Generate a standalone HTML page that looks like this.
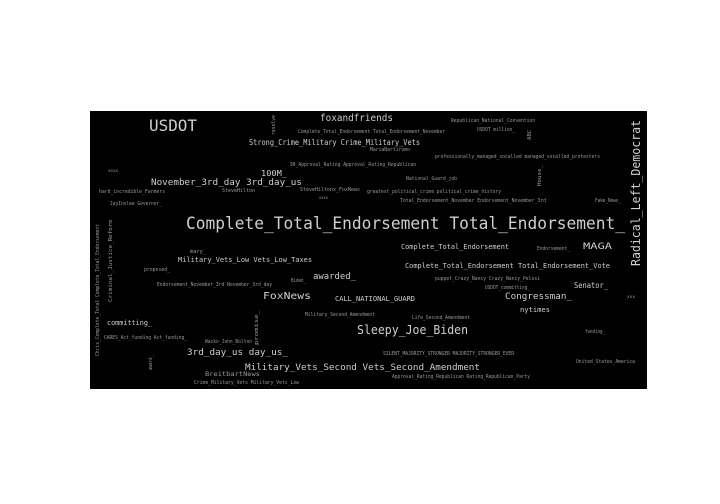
<!DOCTYPE html>
<html><head><meta charset="utf-8"><style>
html,body{margin:0;padding:0;background:#fff;width:720px;height:504px;overflow:hidden}
svg{display:block}
text{font-family:"DejaVu Sans Mono","Liberation Mono",monospace;fill:#cfcfcf}
.s{fill:#9a9a9a}
</style></head><body>
<svg width="720" height="504" viewBox="0 0 720 504" xmlns="http://www.w3.org/2000/svg">
<rect x="90" y="111" width="557" height="278" fill="#000"/>
<g>
<text x="149" y="131" font-size="16" textLength="48" lengthAdjust="spacingAndGlyphs" fill="#aaa">USDOT</text>
<text x="320" y="121" font-size="10" textLength="73" lengthAdjust="spacingAndGlyphs">foxandfriends</text>
<text class="s" x="298" y="133" font-size="5" textLength="147" lengthAdjust="spacingAndGlyphs">Complete_Total_Endorsement Total_Endorsement_November</text>
<text x="249" y="145" font-size="8" textLength="171" lengthAdjust="spacingAndGlyphs">Strong_Crime_Military Crime_Military_Vets</text>
<text class="s" x="451" y="122" font-size="5" textLength="84" lengthAdjust="spacingAndGlyphs">Republican_National_Convention</text>
<text class="s" x="477" y="131" font-size="5" textLength="38" lengthAdjust="spacingAndGlyphs">USDOT million_</text>
<text class="s" transform="translate(275,135) rotate(-90)" font-size="5" textLength="20" lengthAdjust="spacingAndGlyphs">resolve</text>
<text class="s" transform="translate(531,140) rotate(-90)" font-size="5" textLength="10" lengthAdjust="spacingAndGlyphs">ABC</text>
<text class="s" x="370" y="151" font-size="5" textLength="40" lengthAdjust="spacingAndGlyphs">MariaBartiromo</text>
<text class="s" x="435" y="158" font-size="5" textLength="165" lengthAdjust="spacingAndGlyphs">professionally_managed_socalled managed_socalled_protesters</text>
<text class="s" x="290" y="166" font-size="5" textLength="126" lengthAdjust="spacingAndGlyphs">90_Approval_Rating Approval_Rating_Republican</text>
<text x="261" y="176" font-size="8" textLength="26" lengthAdjust="spacingAndGlyphs">100M_</text>
<text class="s" x="108" y="172" font-size="4" textLength="10" lengthAdjust="spacingAndGlyphs">xxxx</text>
<text class="s" x="406" y="180" font-size="5" textLength="51" lengthAdjust="spacingAndGlyphs">National_Guard_job</text>
<text x="151" y="185" font-size="9" textLength="151" lengthAdjust="spacingAndGlyphs">November_3rd_day 3rd_day_us</text>
<text class="s" x="99" y="193" font-size="5" textLength="66" lengthAdjust="spacingAndGlyphs">hard_incredible_Farmers</text>
<text class="s" x="222" y="192" font-size="5" textLength="33" lengthAdjust="spacingAndGlyphs">SteveHilton</text>
<text class="s" x="300" y="191" font-size="5" textLength="60" lengthAdjust="spacingAndGlyphs">SteveHiltonx_FoxNews</text>
<text class="s" x="367" y="193" font-size="5" textLength="134" lengthAdjust="spacingAndGlyphs">greatest_political_crime political_crime_history</text>
<text class="s" transform="translate(541,186) rotate(-90)" font-size="5" textLength="21" lengthAdjust="spacingAndGlyphs">House_</text>
<text class="s" x="319" y="199" font-size="4" textLength="9" lengthAdjust="spacingAndGlyphs">xxxx</text>
<text class="s" x="400" y="202" font-size="5" textLength="146" lengthAdjust="spacingAndGlyphs">Total_Endorsement_November Endorsement_November_3rd</text>
<text class="s" x="595" y="202" font-size="5" textLength="26" lengthAdjust="spacingAndGlyphs">Fake_News_</text>
<text class="s" x="110" y="205" font-size="5" textLength="52" lengthAdjust="spacingAndGlyphs">JayInslee Governor_</text>
<text x="186" y="229" font-size="17" textLength="439" lengthAdjust="spacingAndGlyphs" fill="#e6e6e6">Complete_Total_Endorsement Total_Endorsement_</text>
<text transform="translate(640,266) rotate(-90)" font-size="12" textLength="146" lengthAdjust="spacingAndGlyphs">Radical_Left_Democrat</text>
<text class="s" transform="translate(99,356) rotate(-90)" font-size="5" textLength="132" lengthAdjust="spacingAndGlyphs">Chris_Complete_Total Complete_Total_Endorsement</text>
<text class="s" transform="translate(112,302) rotate(-90)" font-size="5" textLength="82" lengthAdjust="spacingAndGlyphs">Criminal_Justice_Reform</text>
<text x="401" y="249" font-size="7" textLength="108" lengthAdjust="spacingAndGlyphs">Complete_Total_Endorsement</text>
<text class="s" x="537" y="250" font-size="5" textLength="33" lengthAdjust="spacingAndGlyphs">Endorsement_</text>
<text x="583" y="249" font-size="9" textLength="29" lengthAdjust="spacingAndGlyphs" fill="#999">MAGA</text>
<text class="s" x="190" y="253" font-size="5" textLength="16" lengthAdjust="spacingAndGlyphs">mary_</text>
<text x="178" y="262" font-size="7" textLength="134" lengthAdjust="spacingAndGlyphs">Military_Vets_Low Vets_Low_Taxes</text>
<text x="405" y="268" font-size="7" textLength="205" lengthAdjust="spacingAndGlyphs">Complete_Total_Endorsement Total_Endorsement_Vote</text>
<text class="s" x="144" y="271" font-size="5" textLength="26" lengthAdjust="spacingAndGlyphs">proposed_</text>
<text class="s" x="157" y="286" font-size="5" textLength="115" lengthAdjust="spacingAndGlyphs">Endorsement_November_3rd November_3rd_day</text>
<text class="s" x="291" y="282" font-size="5" textLength="15" lengthAdjust="spacingAndGlyphs">Biden_</text>
<text x="313" y="279" font-size="9" textLength="43" lengthAdjust="spacingAndGlyphs">awarded_</text>
<text class="s" x="435" y="280" font-size="5" textLength="105" lengthAdjust="spacingAndGlyphs">puppet_Crazy_Nancy Crazy_Nancy_Pelosi</text>
<text class="s" x="485" y="289" font-size="5" textLength="45" lengthAdjust="spacingAndGlyphs">USDOT_committing_</text>
<text x="574" y="288" font-size="8" textLength="34" lengthAdjust="spacingAndGlyphs" fill="#999">Senator_</text>
<text x="263" y="299" font-size="10" textLength="48" lengthAdjust="spacingAndGlyphs" fill="#e6e6e6">FoxNews</text>
<text x="335" y="301" font-size="7" textLength="80" lengthAdjust="spacingAndGlyphs">CALL_NATIONAL_GUARD</text>
<text x="505" y="299" font-size="9" textLength="67" lengthAdjust="spacingAndGlyphs">Congressman_</text>
<text class="s" x="627" y="298" font-size="4" textLength="8" lengthAdjust="spacingAndGlyphs">xxx</text>
<text class="s" x="305" y="316" font-size="5" textLength="70" lengthAdjust="spacingAndGlyphs">Military_Second_Amendment</text>
<text class="s" x="412" y="319" font-size="5" textLength="58" lengthAdjust="spacingAndGlyphs">Life_Second_Amendment</text>
<text x="520" y="312" font-size="7" textLength="30" lengthAdjust="spacingAndGlyphs">nytimes</text>
<text x="107" y="325" font-size="7" textLength="45" lengthAdjust="spacingAndGlyphs">committing_</text>
<text x="357" y="334" font-size="12" textLength="111" lengthAdjust="spacingAndGlyphs">Sleepy_Joe_Biden</text>
<text class="s" x="585" y="333" font-size="5" textLength="20" lengthAdjust="spacingAndGlyphs">funding_</text>
<text class="s" transform="translate(258,345) rotate(-90)" font-size="5" textLength="35" lengthAdjust="spacingAndGlyphs">promise_</text>
<text class="s" x="104" y="339" font-size="5" textLength="83" lengthAdjust="spacingAndGlyphs">CARES_Act_funding Act_funding_</text>
<text class="s" x="205" y="343" font-size="5" textLength="47" lengthAdjust="spacingAndGlyphs">Wacko_John_Bolton</text>
<text x="187" y="355" font-size="9" textLength="101" lengthAdjust="spacingAndGlyphs">3rd_day_us day_us_</text>
<text class="s" x="383" y="355" font-size="5" textLength="131" lengthAdjust="spacingAndGlyphs">SILENT_MAJORITY_STRONGER MAJORITY_STRONGER_EVER</text>
<text class="s" transform="translate(152,370) rotate(-90)" font-size="5" textLength="15" lengthAdjust="spacingAndGlyphs">award_</text>
<text class="s" x="576" y="363" font-size="5" textLength="59" lengthAdjust="spacingAndGlyphs">United_States_America</text>
<text x="245" y="370" font-size="9" textLength="235" lengthAdjust="spacingAndGlyphs">Military_Vets_Second Vets_Second_Amendment</text>
<text class="s" x="205" y="376" font-size="6" textLength="55" lengthAdjust="spacingAndGlyphs">BreitbartNews</text>
<text class="s" x="392" y="378" font-size="5" textLength="138" lengthAdjust="spacingAndGlyphs">Approval_Rating_Republican Rating_Republican_Party</text>
<text class="s" x="194" y="384" font-size="5" textLength="105" lengthAdjust="spacingAndGlyphs">Crime_Military_Vets Military_Vets_Low</text>
</g>
</svg>
</body></html>
